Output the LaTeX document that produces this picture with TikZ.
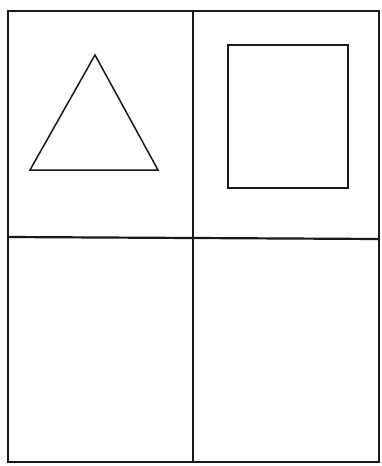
\documentclass[tikz,border=0pt]{standalone}
\begin{document}
\begin{tikzpicture}[x=1pt,y=-1pt,
  frame/.style={draw=black!90,line width=2.2pt},
  figline/.style={draw=black!90,line width=1.5pt,line join=miter}]
\useasboundingbox (0,0) rectangle (381,466);
\coordinate (tl) at (8,11);
\coordinate (br) at (379,462);
\coordinate (vt) at (193,11);
\coordinate (vb) at (193,462);
\coordinate (hl) at (8,237);
\coordinate (hr) at (379,239);
\draw[frame] (tl) rectangle (br);
\draw[frame] (vt) -- (vb);
\draw[frame] (hl) -- (hr);
\coordinate (ta) at (95,55);
\coordinate (tbl) at (30,170);
\coordinate (tbr) at (158,170);
\draw[figline] (ta) -- (tbl) -- (tbr) -- cycle;
\coordinate (s1) at (228,45);
\coordinate (s2) at (348,188);
\draw[figline] (s1) rectangle (s2);
\end{tikzpicture}
\end{document}
